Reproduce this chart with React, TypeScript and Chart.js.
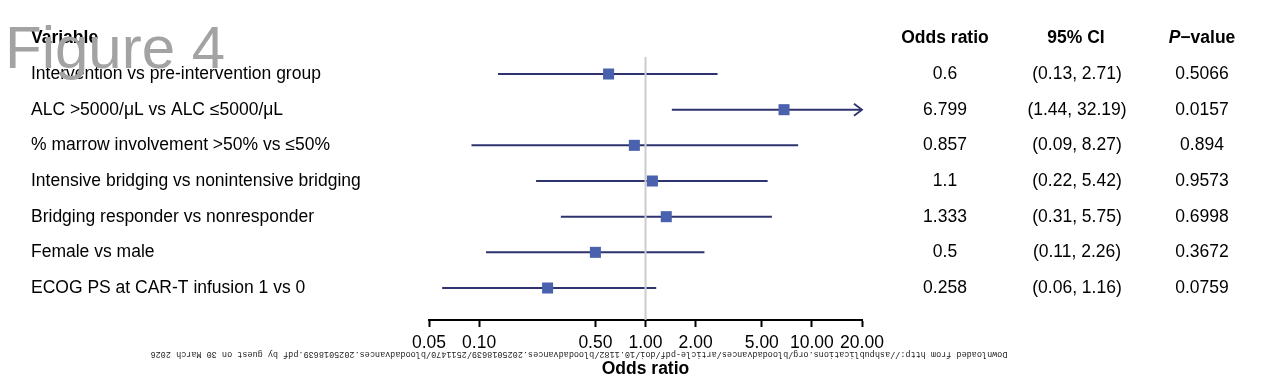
import React, { useEffect, useRef } from "react";
import { Chart, registerables } from "chart.js";

Chart.register(...registerables);

const variables = [
  "Intervention vs pre-intervention group",
  "ALC >5000/μL vs ALC ≤5000/μL",
  "% marrow involvement >50% vs ≤50%",
  "Intensive bridging vs nonintensive bridging",
  "Bridging responder vs nonresponder",
  "Female vs male",
  "ECOG PS at CAR-T infusion 1 vs 0",
];
const oddsRatios = [0.6, 6.799, 0.857, 1.1, 1.333, 0.5, 0.258];
const ciLow = [0.13, 1.44, 0.09, 0.22, 0.31, 0.11, 0.06];
const ciHigh = [2.71, 32.19, 8.27, 5.42, 5.75, 2.26, 1.16];
const pValues = ["0.5066", "0.0157", "0.894", "0.9573", "0.6998", "0.3672", "0.0759"];
const tickValues = [0.05, 0.1, 0.5, 1, 2, 5, 10, 20];
const headers = ["Variable", "Odds ratio", "95% CI", "P−value"];
const axisTitle = "Odds ratio";
const figureLabel = "Figure 4";
const watermark =
  "Downloaded from http://ashpublications.org/bloodadvances/article-pdf/doi/10.1182/bloodadvances.2025018639/2511470/bloodadvances.2025018639.pdf by guest on 30 March 2026";

const X_MIN = 0.05;
const X_MAX = 20;
const FONT = '"Liberation Sans", Arial, Helvetica, sans-serif';
const LINE_COLOR = "#2e336f";
const MARKER_COLOR = "#4a62ad";

export default function App() {
  const ref = useRef<HTMLCanvasElement | null>(null);

  useEffect(() => {
    if (!ref.current) return;

    const ciDatasets = variables.map((_, i) => ({
      type: "line" as const,
      data: [
        { x: Math.max(ciLow[i], X_MIN), y: i },
        { x: Math.min(ciHigh[i], X_MAX), y: i },
      ],
      borderColor: LINE_COLOR,
      borderWidth: 2,
      pointRadius: 0,
      showLine: true,
      order: 3,
      clip: false as any,
    }));

    const refLine = {
      type: "line" as const,
      data: [
        { x: 1, y: -0.477 },
        { x: 1, y: 6.897 },
      ],
      borderColor: "#cccccc",
      borderWidth: 2,
      pointRadius: 0,
      showLine: true,
      order: 2,
    };

    const markers = {
      type: "scatter" as const,
      data: oddsRatios.map((v, i) => ({ x: v, y: i })),
      pointStyle: "rect",
      pointRadius: 7.8,
      backgroundColor: MARKER_COLOR,
      borderColor: MARKER_COLOR,
      borderWidth: 0,
      order: 1,
    };

    const textPlugin = {
      id: "forestText",
      afterDraw(chart: any) {
        const ctx = chart.ctx as CanvasRenderingContext2D;
        const ys = chart.scales.y;
        const xs = chart.scales.x;
        ctx.save();

        // arrows for truncated CIs
        ctx.strokeStyle = LINE_COLOR;
        ctx.lineWidth = 1.8;
        variables.forEach((_, i) => {
          if (ciHigh[i] > X_MAX) {
            const px = xs.getPixelForValue(X_MAX);
            const py = ys.getPixelForValue(i);
            ctx.beginPath();
            ctx.moveTo(px - 8, py - 6);
            ctx.lineTo(px, py);
            ctx.lineTo(px - 8, py + 6);
            ctx.stroke();
          }
        });

        ctx.fillStyle = "#000";
        ctx.textBaseline = "middle";
        const hy = ys.getPixelForValue(-1);
        ctx.font = `bold 17.5px ${FONT}`;
        ctx.textAlign = "left";
        ctx.fillText(headers[0], 31, hy);
        ctx.textAlign = "center";
        ctx.fillText(headers[1], 945, hy);
        ctx.fillText(headers[2], 1076, hy);
        // P-value header: italic P
        const pPart = headers[3].slice(0, 1);
        const rest = headers[3].slice(1);
        ctx.font = `italic bold 17.5px ${FONT}`;
        const wP = ctx.measureText(pPart).width;
        ctx.font = `bold 17.5px ${FONT}`;
        const wR = ctx.measureText(rest).width;
        const startX = 1202 - (wP + wR) / 2;
        ctx.textAlign = "left";
        ctx.font = `italic bold 17.5px ${FONT}`;
        ctx.fillText(pPart, startX, hy);
        ctx.font = `bold 17.5px ${FONT}`;
        ctx.fillText(rest, startX + wP, hy);

        ctx.font = `17.5px ${FONT}`;
        variables.forEach((name, i) => {
          const y = ys.getPixelForValue(i);
          ctx.textAlign = "left";
          ctx.fillText(name, 31, y);
          ctx.textAlign = "center";
          ctx.fillText(String(oddsRatios[i]), 945, y);
          ctx.fillText(`(${ciLow[i].toFixed(2)}, ${ciHigh[i].toFixed(2)})`, 1077, y);
          ctx.fillText(pValues[i], 1202, y);
        });

        // watermark rotated 180 degrees
        ctx.save();
        ctx.translate(579, 354);
        ctx.rotate(Math.PI);
        ctx.font = `8.5px "Liberation Mono", "DejaVu Sans Mono", monospace`;
        ctx.textAlign = "center";
        ctx.fillStyle = "#222";
        ctx.fillText(watermark, 0, 0);
        ctx.restore();

        // Figure label overlay
        ctx.font = `60px ${FONT}`;
        ctx.textAlign = "left";
        ctx.textBaseline = "alphabetic";
        ctx.fillStyle = "#a3a3a3";
        ctx.fillText(figureLabel, 5, 68);

        ctx.restore();
      },
    };

    const chart = new Chart(ref.current, {
      type: "scatter",
      data: { datasets: [markers, refLine, ...ciDatasets] as any },
      options: {
        animation: false,
        responsive: false,
        devicePixelRatio: 1,
        events: [],
        layout: { padding: { left: 429, right: 402, top: 57, bottom: 3 } },
        plugins: { legend: { display: false }, tooltip: { enabled: false } },
        scales: {
          x: {
            type: "logarithmic",
            min: X_MIN,
            max: X_MAX,
            afterBuildTicks: (scale: any) => {
              scale.ticks = tickValues.map((v) => ({ value: v }));
            },
            afterFit: (scale: any) => {
              scale.height = 63;
            },
            border: { display: true, color: "#000", width: 2 },
            grid: {
              drawOnChartArea: false,
              drawTicks: true,
              tickLength: 7,
              tickColor: "#000",
              tickWidth: 2,
              color: "#000",
            },
            ticks: {
              autoSkip: false,
              maxRotation: 0,
              padding: 6,
              color: "#000",
              font: { family: FONT, size: 17.5 },
              callback: (v: any) => Number(v).toFixed(2),
            },
            title: {
              display: true,
              text: axisTitle,
              color: "#000",
              font: { family: FONT, size: 17.5, weight: "bold" },
              padding: { top: 4, bottom: 3 },
            },
          },
          y: {
            type: "linear",
            display: false,
            min: -0.477,
            max: 6.897,
            reverse: true,
          },
        },
      },
      plugins: [textPlugin],
    });

    return () => chart.destroy();
  }, []);

  return (
    <div style={{ position: "absolute", left: 0, top: 0, width: 1264, height: 386, background: "#fff" }}>
      <canvas ref={ref} width={1264} height={386} style={{ display: "block" }} />
    </div>
  );
}
